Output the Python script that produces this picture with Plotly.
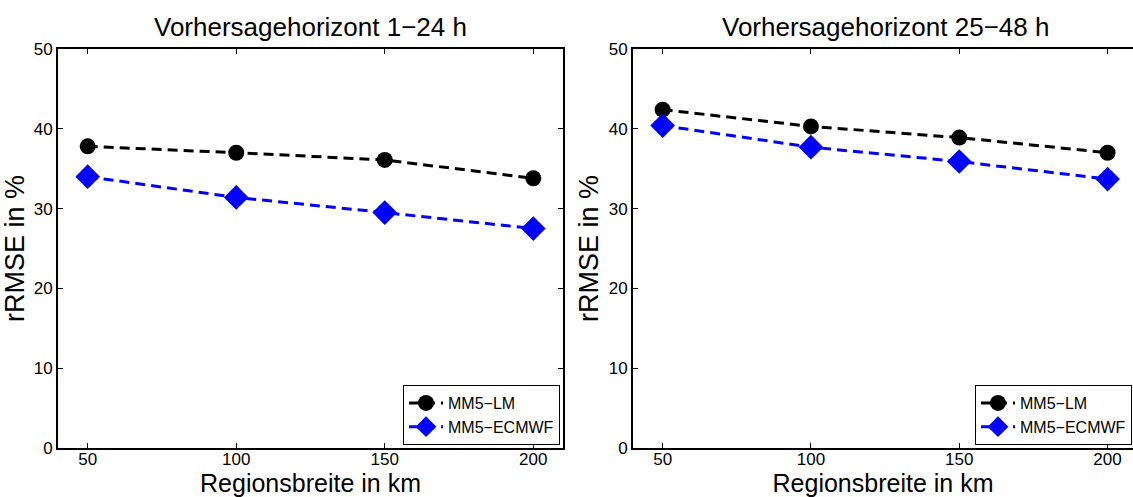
import plotly.graph_objects as go

regions = [50, 100, 150, 200]
lm_1_24 = [37.8, 37.0, 36.1, 33.8]
ecmwf_1_24 = [34.0, 31.4, 29.5, 27.5]
lm_25_48 = [42.4, 40.3, 38.9, 37.0]
ecmwf_25_48 = [40.4, 37.7, 35.9, 33.7]
titles = ["Vorhersagehorizont 1\u221224 h", "Vorhersagehorizont 25\u221248 h"]
series_names = ["MM5\u2212LM", "MM5\u2212ECMWF"]
y_ticks = [0, 10, 20, 30, 40, 50]
x_ticks = [50, 100, 150, 200]

W, H = 1133, 497
FONT = "Liberation Sans, Arial, sans-serif"

fig = go.Figure()

panels = [(lm_1_24, ecmwf_1_24, "x", "y", "legend"),
          (lm_25_48, ecmwf_25_48, "x2", "y2", "legend2")]
for lm, ec, xa, ya, lg in panels:
    fig.add_trace(go.Scatter(x=regions, y=lm, mode="lines+markers", name=series_names[0],
                             xaxis=xa, yaxis=ya, legend=lg,
                             line=dict(color="black", width=3, dash="10px,6px"),
                             marker=dict(symbol="circle", size=16, color="black")))
    fig.add_trace(go.Scatter(x=regions, y=ec, mode="lines+markers", name=series_names[1],
                             xaxis=xa, yaxis=ya, legend=lg,
                             line=dict(color="#0000ff", width=3, dash="10px,6px"),
                             marker=dict(symbol="diamond", size=19, color="#0000ff")))

ybot = (H - 448) / H
ytop = (H - 49) / H
axcommon = dict(showgrid=False, zeroline=False, showline=True, linecolor="black", linewidth=1.8,
                ticks="inside", ticklen=5, tickcolor="black", tickwidth=1, automargin=False,
                tickfont=dict(family=FONT, size=17, color="black"))
xtitle = dict(text="Regionsbreite in km", font=dict(size=25), standoff=6)
ytitle = dict(text="rRMSE in %", font=dict(size=27), standoff=2)

fig.update_layout(
    width=W, height=H, margin=dict(l=0, r=0, t=0, b=0),
    paper_bgcolor="white", plot_bgcolor="white",
    font=dict(family=FONT, color="black"),
    xaxis=dict(domain=[58 / W, 563 / W], range=[40, 210], tickvals=x_ticks, mirror="ticks",
               anchor="y", title=xtitle, ticklabelstandoff=-5, **axcommon),
    yaxis=dict(domain=[ybot, ytop], range=[0, 50], tickvals=y_ticks, mirror="ticks", anchor="x",
               title=ytitle, ticklabelstandoff=0, **axcommon),
    xaxis2=dict(domain=[633 / W, 1.0], range=[40, 40 + (W - 633) / 2.966], tickvals=x_ticks, mirror="ticks",
                anchor="y2", title=xtitle, ticklabelstandoff=-5, **axcommon),
    yaxis2=dict(domain=[ybot, ytop], range=[0, 50], tickvals=y_ticks, mirror=False, anchor="x2",
                title=ytitle, ticklabelstandoff=0, **axcommon),
    legend=dict(x=560 / W, y=(H - 445) / H, xanchor="right", yanchor="bottom",
                bgcolor="white", bordercolor="black", borderwidth=1,
                font=dict(family=FONT, size=16, color="black"), tracegroupgap=0,
                itemwidth=34),
    legend2=dict(x=1132 / W, y=(H - 445) / H, xanchor="right", yanchor="bottom",
                 bgcolor="white", bordercolor="black", borderwidth=1,
                 font=dict(family=FONT, size=16, color="black"), tracegroupgap=0,
                 itemwidth=34),
    showlegend=True,
)

fig.add_annotation(text=titles[0], x=(58 + 563) / 2 / W, y=(H - 27) / H, xref="paper", yref="paper",
                   xanchor="center", yanchor="middle", showarrow=False,
                   font=dict(family=FONT, size=26, color="black"))
fig.add_annotation(text=titles[1], x=(633 + 1138) / 2 / W, y=(H - 27) / H, xref="paper", yref="paper",
                   xanchor="center", yanchor="middle", showarrow=False,
                   font=dict(family=FONT, size=26, color="black"))

fig.write_html("out.html")
